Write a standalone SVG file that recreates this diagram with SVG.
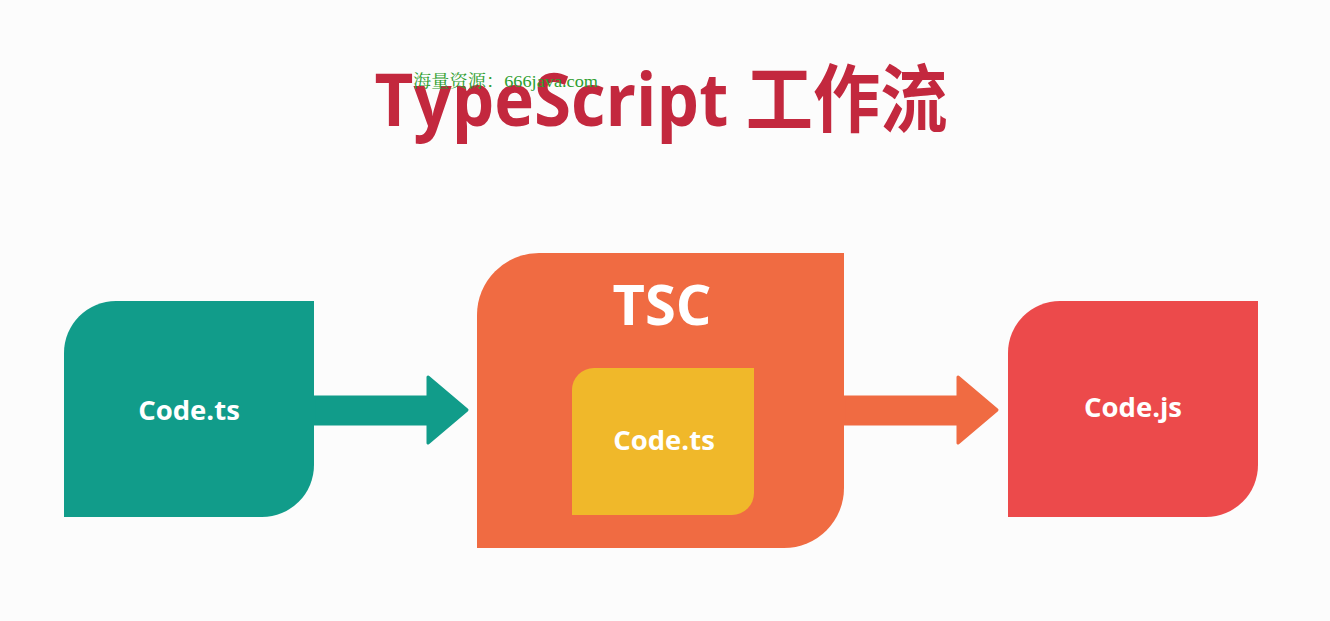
<svg xmlns="http://www.w3.org/2000/svg" width="1330" height="621" viewBox="0 0 1330 621">
<style>
.lbl{font-family:"Open Sans","Liberation Sans",sans-serif;font-weight:700;fill:#fff;text-anchor:middle}
.title{font-family:"Open Sans","Noto Sans CJK SC",sans-serif;font-weight:700;fill:#C3283E;text-anchor:middle}
.wm{font-family:"Liberation Serif","Noto Serif CJK SC","Noto Sans CJK SC",serif;fill:#2E9E2E}
</style>
<rect width="1330" height="621" fill="#FCFCFC"/>
<text class="title" x="661" y="126" font-size="74" textLength="573" lengthAdjust="spacingAndGlyphs">TypeScript 工作流</text>
<text class="wm" x="413" y="87" font-size="17" textLength="185" lengthAdjust="spacingAndGlyphs">海量资源：666java.com</text>
<g id="connectors">
<path d="M314 397 H428 V377 L467 410 L428 443 V424 H314 Z" fill="#119C8A" stroke="#119C8A" stroke-width="3" stroke-linejoin="round"/>
<path d="M844 397 H958 V377 L997 410 L958 443 V424 H844 Z" fill="#F06B42" stroke="#F06B42" stroke-width="3" stroke-linejoin="round"/>
</g>
<g id="code-ts">
<path d="M64 517 V353 A52 52 0 0 1 116 301 H314 V465 A52 52 0 0 1 262 517 Z" fill="#119C8A"/>
<text class="lbl" x="189" y="420" font-size="27.5">Code.ts</text>
</g>
<g id="tsc">
<path d="M477 548 V315 A62 62 0 0 1 539 253 H844 V488 A60 60 0 0 1 784 548 Z" fill="#F06B42"/>
<text class="lbl" x="662" y="325" font-size="56">TSC</text>
<g id="inner-code-ts">
<path d="M572 515 V390 A22 22 0 0 1 594 368 H754 V493 A22 22 0 0 1 732 515 Z" fill="#F0B82A"/>
<text class="lbl" x="664" y="450" font-size="27.5">Code.ts</text>
</g>
</g>
<g id="code-js">
<path d="M1008 517 V353 A52 52 0 0 1 1060 301 H1258 V465 A52 52 0 0 1 1206 517 Z" fill="#EC4A4B"/>
<text class="lbl" x="1133" y="417" font-size="27.5">Code.js</text>
</g>
</svg>
